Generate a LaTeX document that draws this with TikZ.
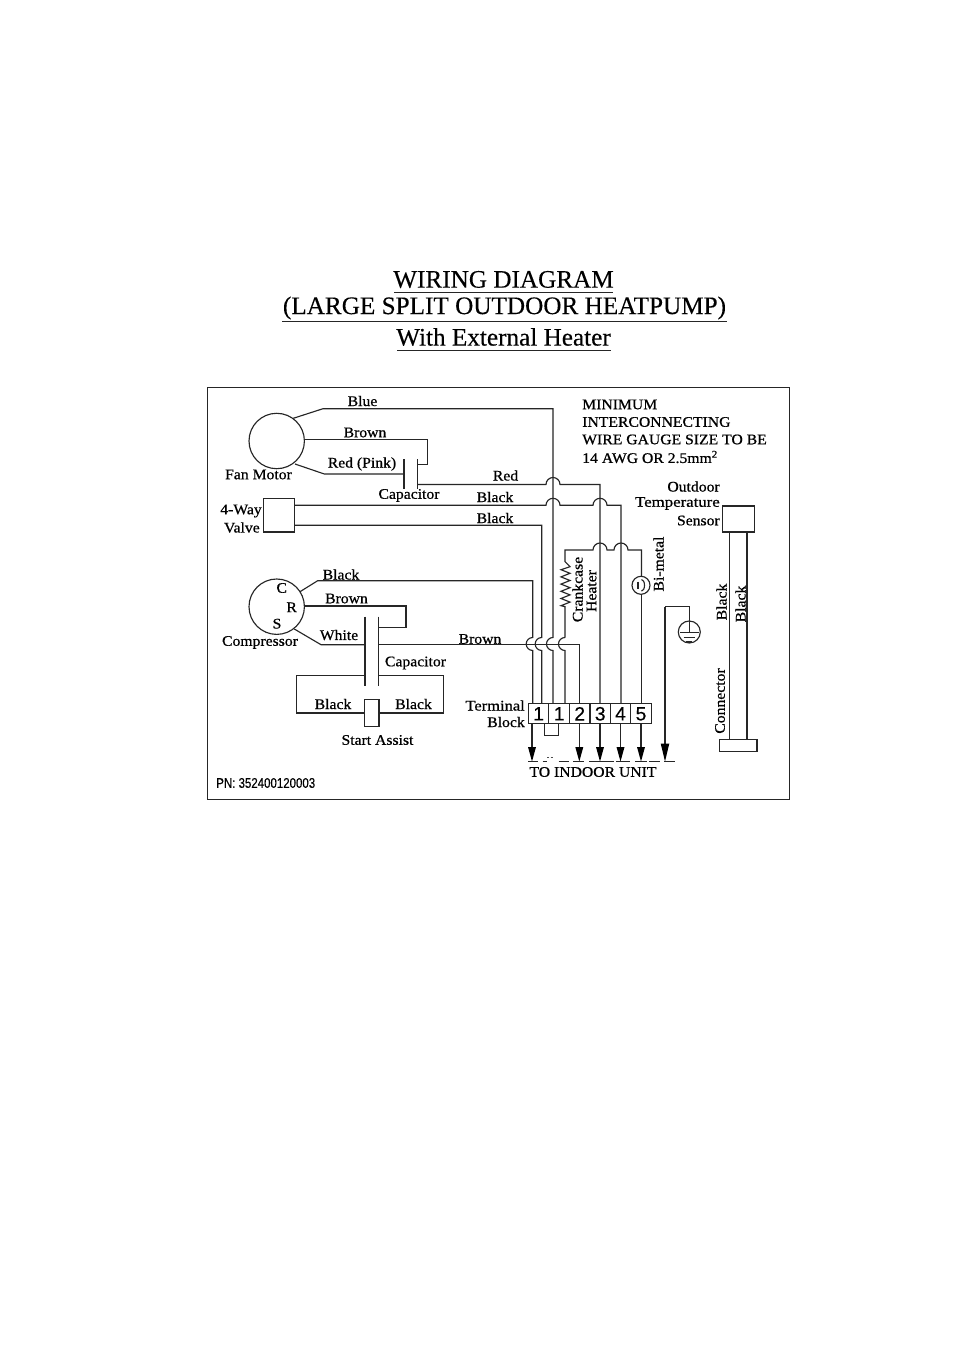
\documentclass[tikz,border=0pt]{standalone}
\usepackage{fontspec}
\usepackage{graphicx}
\setmainfont{Liberation Serif}
\setsansfont{Liberation Sans}
\newfontfamily\lblfont[FakeBold=0.7,FakeStretch=1.07]{Liberation Serif}
\newfontfamily\ttlfont[FakeBold=0.2]{Liberation Serif}
\newfontfamily\pnfont[FakeBold=0.35,FakeStretch=0.82]{Liberation Sans}
\newfontfamily\digfont[FakeBold=0.3]{Liberation Sans}
\begin{document}
\begin{tikzpicture}[x=0.75pt,y=-0.75pt,
  wire/.style={line width=0.85pt,draw=black!85,line join=miter},
  lbl/.style={inner sep=0pt,font=\lblfont\fontsize{11pt}{12pt}\selectfont,text=black},
  ttl/.style={inner sep=0pt,font=\ttlfont\fontsize{18.9pt}{22pt}\selectfont},
  digit/.style={inner sep=0pt,font=\digfont\fontsize{14.5pt}{16pt}\selectfont},
  tip/.style={fill=black,draw=none}]
\useasboundingbox (0,0) rectangle (954,1351);
\fill[white] (0,0) rectangle (954,1351);
% title
\node[ttl] (t1) at (503.5,279.5) {WIRING DIAGRAM};
\node[ttl] (t2) at (504.5,308) {(LARGE SPLIT OUTDOOR HEATPUMP)};
\node[ttl] (t3) at (503.5,337) {With External Heater};
\draw[wire] (394,292.5) -- (613,292.5);
\draw[wire] (282,321.5) -- (727,321.5);
\draw[wire] (397,350.5) -- (611,350.5);
% frame
\draw[line width=0.75pt,draw=black!85] (207,387) rectangle (789,799);
% fan motor
\node[circle,draw=black!85,line width=0.85pt,minimum size=55.4*0.75pt,inner sep=0pt] (fan) at (276.7,441) {};
\coordinate (fanA) at (293.3,418.3);
\coordinate (fanB) at (304,439.7);
\coordinate (fanC) at (295,464);
\draw[wire] (fanA) -- (323,408.7) -- (553,408.7) -- (553,637.5) arc[start angle=90,end angle=270,radius=6.5*0.75pt] -- (553,703.5);
\draw[wire] (fanB) -- (427.7,439.7) -- (427.7,464.3) -- (417.7,464.3);
\draw[wire] (fanC) -- (324.3,474) -- (404,474);
\draw[wire] (404,459) -- (404,489);
\draw[wire] (417.7,459) -- (417.7,489);
% red
\draw[wire] (417.7,484.5) -- (546,484.5) arc[start angle=180,end angle=0,radius=7*0.75pt] -- (600,484.5) -- (600,703.5);
% valve
\node[draw=black!85,line width=0.85pt,minimum width=30.6*0.75pt,minimum height=33.7*0.75pt,inner sep=0pt] (valve) at (279,515.2) {};
\draw[wire] (294.3,505.3) -- (546,505.3) arc[start angle=180,end angle=0,radius=7*0.75pt] -- (593,505.3) arc[start angle=180,end angle=0,radius=7*0.75pt] -- (621,505.3) -- (621,703.5);
\draw[wire] (294.3,525.3) -- (541.7,525.3) -- (541.7,637.5) arc[start angle=90,end angle=270,radius=6.5*0.75pt] -- (541.7,703.5);
% crankcase
\draw[wire] (565,637.5) -- (565,606.7) -- ++(-4,-1) -- ++(9,-3.6) -- ++(-9,-3.6) -- ++(9,-3.6) -- ++(-9,-3.6) -- ++(9,-3.6) -- ++(-9,-3.6) -- ++(9,-3.6) -- ++(-9,-3.6) -- ++(9,-3.6) -- ++(-9,-3.6) -- ++(9,-3) -- (565,561.7) -- (565,550) -- (593,550) arc[start angle=180,end angle=0,radius=7*0.75pt] -- (614,550) arc[start angle=180,end angle=0,radius=7*0.75pt] -- (641.5,550) -- (641.5,576);
\draw[wire] (565,637.5) arc[start angle=90,end angle=270,radius=6.5*0.75pt] -- (565,703.5);
% bimetal
\node[circle,draw=black!85,line width=0.85pt,minimum size=18*0.75pt,inner sep=0pt] (bim) at (641,585.3) {};
\draw[wire] (641.5,594.3) -- (641.5,703.5);
\draw[wire] (638,581.5) -- (638,589);
\draw[wire] (641.5,579.5) arc[start angle=90,end angle=-90,x radius=3*0.75pt,y radius=5.8*0.75pt];
% compressor
\node[circle,draw=black!85,line width=0.85pt,minimum size=55.4*0.75pt,inner sep=0pt] (comp) at (276.7,606.7) {};
\draw[wire] (300,591.7) -- (317.7,580.7) -- (532.7,580.7) -- (532.7,637.5) arc[start angle=90,end angle=270,radius=6.5*0.75pt] -- (532.7,703.5);
\draw[wire] (304,606) -- (406,606) -- (406,627.3) -- (378.5,627.3);
\draw[wire] (294.3,629) -- (321,644.7) -- (365,644.7);
\draw[wire] (365,616.7) -- (365,685.7);
\draw[wire] (378.5,616.7) -- (378.5,685.7);
\draw[wire] (378.5,644.5) -- (579.3,644.5) -- (579.3,703.5);
% start assist
\node[draw=black!85,line width=0.85pt,minimum width=14.7*0.75pt,minimum height=27.4*0.75pt,inner sep=0pt] (sa) at (371.7,713) {};
\draw[wire] (365,675.3) -- (296.7,675.3) -- (296.7,713) -- (364.3,713);
\draw[wire] (378.5,675.3) -- (443.3,675.3) -- (443.3,713) -- (379,713);
% terminal
\draw[line width=0.85pt,draw=black!85] (528.3,703.5) rectangle (651.3,723.7);
\foreach \x in {548.7,569.3,590,610.3,630.7} \draw[wire] (\x,703.5) -- (\x,723.7);
\node[digit] (d1) at (538.6,713.8) {1};
\node[digit] (d2) at (559.2,713.8) {1};
\node[digit] (d3) at (579.7,713.8) {2};
\node[digit] (d4) at (600.2,713.8) {3};
\node[digit] (d5) at (620.5,713.8) {4};
\node[digit] (d6) at (641,713.8) {5};
\draw[wire] (544.7,723.7) -- (544.7,735.3) -- (558.7,735.3) -- (558.7,723.7);
% arrows
\foreach \x in {532,579.3,600,620.5,641} {
  \draw[wire] (\x,723.7) -- (\x,750);
  \fill[tip] (\x-4,747) -- (\x+4,747) -- (\x,761.5) -- cycle;
}
\draw[wire] (665,606.7) -- (689.3,606.7) -- (689.3,632.3);
\draw[wire] (665,606.7) -- (665,745);
\fill[tip] (660.7,743.5) -- (669.3,743.5) -- (665,761.5) -- cycle;
% ground
\node[circle,draw=black!85,line width=0.85pt,minimum size=22*0.75pt,inner sep=0pt] (gnd) at (689.3,632) {};
\draw[wire] (680,632.3) -- (699,632.3);
\draw[wire] (683.5,637.7) -- (695,637.7);
\draw[wire] (686,642) -- (692,642);
% dashes
\foreach \a/\b in {528/538,542.7/547,558.7/569,573/584,589/614,616/630,635/646.7,649/660,664/675}
  \draw[wire] (\a,761.7) -- (\b,761.7);
\draw[line width=0.4pt,draw=black!70] (547,757) -- (549,757) (550.5,757) -- (552.5,757);
% sensor
\node[draw=black!85,line width=0.85pt,minimum width=32*0.75pt,minimum height=26*0.75pt,inner sep=0pt] (sens) at (738.3,519) {};
\node[draw=black!85,line width=0.85pt,minimum width=37.7*0.75pt,minimum height=12.4*0.75pt,inner sep=0pt] (conn) at (738.2,745.5) {};
\draw[wire] (729.7,532) -- (729.7,739.3);
\draw[wire] (747,532) -- (747,739.3);
% labels
\node[lbl] (l1) at (362.5,401) {Blue};
\node[lbl] (l2) at (365,432.5) {Brown};
\node[lbl] (l3) at (362,464) {Red (Pink)};
\node[lbl] (l4) at (258.5,474.5) {Fan Motor};
\node[lbl] (l5) at (409,495.5) {Capacitor};
\node[lbl] (l6) at (505.5,475.5) {Red};
\node[lbl] (l7) at (495,497) {Black};
\node[lbl] (l8) at (495,518) {Black};
\node[lbl,anchor=east] (l9) at (262,511) {4-Way};
\node[lbl,anchor=east] (l10) at (260,527.5) {Valve};
\node[lbl] (l11) at (341,574.5) {Black};
\node[lbl] (l12) at (346.5,598.5) {Brown};
\node[lbl] (l13) at (339,635) {White};
\node[lbl] (l14) at (260,642.5) {Compressor};
\node[lbl] (l15) at (415.5,663) {Capacitor};
\node[lbl] (l16) at (333,704) {Black};
\node[lbl] (l17) at (413.5,704) {Black};
\node[lbl] (l18) at (377.5,740) {Start Assist};
\node[lbl] (l19) at (480,639) {Brown};
\node[lbl,anchor=east] (l20) at (525,705.5) {\scalebox{1.05}[1]{Terminal}};
\node[lbl,anchor=east] (l21) at (525,722) {Block};
\node[lbl] (l22) at (593,772) {TO INDOOR UNIT};
\node[lbl,anchor=west] (l23) at (582,404.5) {MINIMUM};
\node[lbl,anchor=west] (l24) at (582,422) {INTERCONNECTING};
\node[lbl,anchor=west] (l25) at (582,439.5) {WIRE GAUGE SIZE TO BE};
\node[lbl,anchor=west] (l26) at (582,457) {14 AWG OR 2.5mm\textsuperscript{2}};
\node[lbl,anchor=east] (l27) at (720,486.5) {Outdoor};
\node[lbl,anchor=east] (l28) at (720,503.5) {\scalebox{1.07}[1]{Temperature}};
\node[lbl,anchor=east] (l29) at (720,520.5) {Sensor};
\node[lbl] (l30) at (281.7,588) {C};
\node[lbl] (l31) at (291.7,607.3) {R};
\node[lbl] (l32) at (277,623.7) {S};
\node[lbl] (l33) at (577.5,589.5) {\rotatebox{90}{Crankcase}};
\node[lbl] (l34) at (591.5,591) {\rotatebox{90}{Heater}};
\node[lbl] (l35) at (658.5,564) {\rotatebox{90}{Bi-metal}};
\node[lbl] (l36) at (721.5,602) {\rotatebox{90}{Black}};
\node[lbl] (l37) at (740.5,604) {\rotatebox{90}{Black}};
\node[lbl] (l38) at (720,701) {\rotatebox{90}{Connector}};
\node[inner sep=0pt,anchor=west,font=\pnfont\fontsize{10.5pt}{12pt}\selectfont] (pn) at (216,783) {PN: 352400120003};
\end{tikzpicture}
\end{document}
